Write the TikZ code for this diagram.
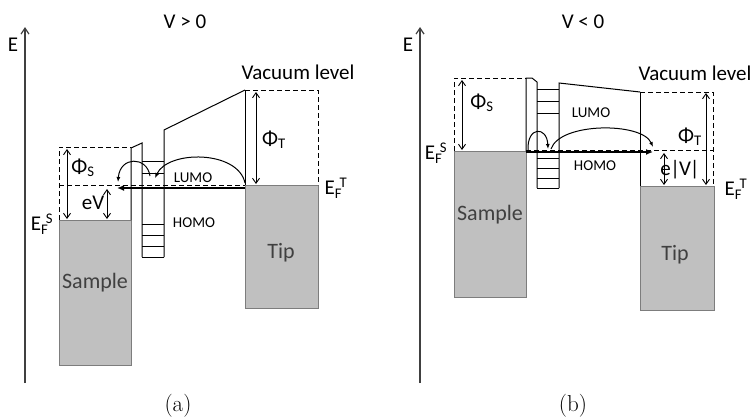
\documentclass[tikz,border=0pt]{standalone}
\usepackage{fontspec}
\setsansfont{Carlito}
\usetikzlibrary{arrows.meta}
\definecolor{fillgray}{RGB}{192,192,192}
\definecolor{edgegray}{RGB}{125,125,125}
\definecolor{txtgray}{RGB}{64,64,64}
\newcommand{\efl}[1]{E\textsubscript{F}\kern-0.12em\textsuperscript{#1}}
\begin{document}
\begin{tikzpicture}[x=1pt,y=-1pt,
  every node/.style={inner sep=0pt},
  lbl/.style={font=\sffamily\fontsize{21}{22}\selectfont},
  lvl/.style={font=\sffamily\fontsize{15}{16}\selectfont},
  metal/.style={fill=fillgray, draw=edgegray, line width=1pt},
  mtext/.style={font=\sffamily\fontsize{22}{24}\selectfont, text=txtgray},
  ln/.style={line width=1pt},
  dsh/.style={dash pattern=on 5pt off 3pt, line width=1pt},
  dbl/.style={line width=0.9pt, {Straight Barb[length=5pt,width=7pt]}-{Straight Barb[length=5pt,width=7pt]}},
  eaxis/.style={line width=1.2pt, draw=txtgray, -{Straight Barb[length=6pt,width=8pt]}},
  hop/.style={line width=1pt, -{Latex[length=5pt,width=4pt]}},
  tunnel/.style={line width=1.7pt, -{Latex[length=7pt,width=6pt]}},
  caption/.style={font=\rmfamily\fontsize{23}{24}\selectfont}
]
\useasboundingbox (0,0) rectangle (752,418);

%% ================= panel (a) =================
\coordinate (aAxB) at (25,383);
\coordinate (aAxT) at (25,27);
\draw[eaxis] (aAxB) -- (aAxT);
\node[lbl] (aE) at (13,45) {E};
\node[lbl] (aTitle) at (185,22) {V > 0};

% sample
\draw[metal] (59,220) rectangle (131,365);
\node[mtext] (aSample) at (95,283) {Sample};
\draw[dsh] (59,220) -- (59,147) -- (131,147);
% barrier and molecule
\draw[ln] (131,220) -- (131,148) -- (142,143) -- (142,257);
\draw[ln] (164,257) -- (164,130) -- (245,90);
\foreach \yy in {161,173,224,235,246,257} \draw[ln] (142,\yy) -- (164,\yy);
% tip
\draw[metal] (245,185) rectangle (318,308);
\node[mtext] (aTip) at (281,253) {Tip};
\draw[ln] (245,185) -- (245,90);
\draw[dsh] (245,90) -- (318,90) -- (318,185);
% Fermi level of tip (dashed)
\draw[dsh] (59,185) -- (245,185);
% tunnelling arrow
\coordinate (aTunS) at (245,188);
\coordinate (aTunE) at (117,188);
\draw[tunnel] (aTunS) -- (aTunE);
% hopping arcs
\coordinate (aH1s) at (245,183);
\coordinate (aH1e) at (155,178);
\draw[hop] (aH1s) .. controls (238,150) and (168,150) .. (aH1e);
\coordinate (aH2s) at (150,176);
\coordinate (aH2e) at (118,182);
\draw[hop] (aH2s) .. controls (147,156) and (120,156) .. (aH2e);
% energy arrows
\coordinate (aPsT) at (67,149);
\coordinate (aPsB) at (67,219);
\draw[dbl] (aPsT) -- (aPsB);
\node[lbl] (aPhiS) at (83,168) {Φ\textsubscript{S}};
\coordinate (aEvT) at (107,189);
\coordinate (aEvB) at (107,219);
\draw[dbl] (aEvT) -- (aEvB);
\node[lbl] (aEv) at (93,203) {eV};
\coordinate (aPtT) at (256,92);
\coordinate (aPtB) at (256,184);
\draw[dbl] (aPtT) -- (aPtB);
\node[lbl] (aPhiT) at (274,140) {Φ\textsubscript{T}};
% labels
\node[lbl] (aEFS) at (42,224) {\efl{S}};
\node[lbl] (aEFT) at (336,188) {\efl{T}};
\node[lbl] (aVac) at (298,72) {Vacuum level};
\node[lvl] (aLUMO) at (193,178) {LUMO};
\node[lvl] (aHOMO) at (194,223) {HOMO};
\node[caption] (aCap) at (178,406) {(a)};

%% ================= panel (b) =================
\coordinate (bAxB) at (420,383);
\coordinate (bAxT) at (420,27);
\draw[eaxis] (bAxB) -- (bAxT);
\node[lbl] (bE) at (408,45) {E};
\node[lbl] (bTitle) at (583,22) {V < 0};

% sample
\draw[metal] (454,151) rectangle (526,297);
\node[mtext] (bSample) at (490,215) {Sample};
\draw[dsh] (454,151) -- (454,78) -- (526,78);
% barrier and molecule
\draw[ln] (526,151) -- (526,78) -- (532,78) -- (537,82) -- (537,188);
\draw[ln] (559,188) -- (559,83) -- (640,92);
\foreach \yy in {89,101,113,158,168,178,188} \draw[ln] (537,\yy) -- (559,\yy);
% tip
\draw[metal] (640,186) rectangle (714,310);
\node[mtext] (bTip) at (675,255) {Tip};
\draw[ln] (640,186) -- (640,92);
\draw[dsh] (640,92) -- (713,92) -- (713,186);
% Fermi level of sample (dashed)
\draw[dsh] (526,150) -- (713,150);
% tunnelling arrow
\coordinate (bTunS) at (526,152);
\coordinate (bTunE) at (653,152);
\draw[tunnel] (bTunS) -- (bTunE);
% hopping arcs
\coordinate (bH1s) at (528,150);
\coordinate (bH1e) at (548,149);
\draw[hop] (bH1s) .. controls (527,126) and (547,126) .. (bH1e);
\coordinate (bH2s) at (551,149);
\coordinate (bH2e) at (653,147);
\draw[hop] (bH2s) .. controls (560,122) and (642,122) .. (bH2e);
% energy arrows
\coordinate (bPsT) at (462,80);
\coordinate (bPsB) at (462,150);
\draw[dbl] (bPsT) -- (bPsB);
\node[lbl] (bPhiS) at (482,103) {Φ\textsubscript{S}};
\coordinate (bEvT) at (664,153);
\coordinate (bEvB) at (664,185);
\draw[dbl] (bEvT) -- (bEvB);
\node[lbl] (bEv) at (680,170) {e\kern-0.5pt|\kern-1pt V\kern-1pt|};
\coordinate (bPtT) at (706,93);
\coordinate (bPtB) at (706,185);
\draw[dbl] (bPtT) -- (bPtB);
\node[lbl] (bPhiT) at (690,137) {Φ\textsubscript{T}};
% labels
\node[lbl] (bEFS) at (436,153) {\efl{S}};
\node[lbl] (bEFT) at (736,189) {\efl{T}};
\node[lbl] (bVac) at (695,73) {Vacuum level};
\node[lvl] (bLUMO) at (591,113) {LUMO};
\node[lvl] (bHOMO) at (595,166) {HOMO};
\node[caption] (bCap) at (573,406) {(b)};
\end{tikzpicture}
\end{document}
